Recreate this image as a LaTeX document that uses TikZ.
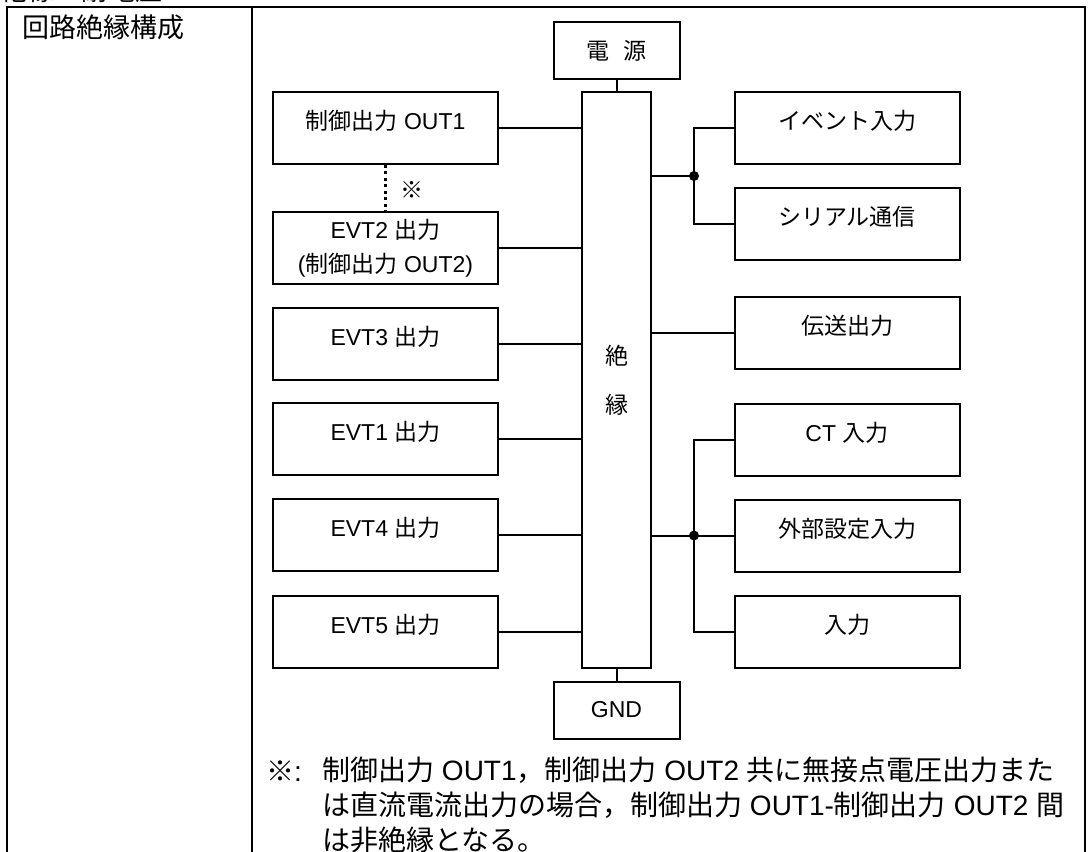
\documentclass[tikz,border=0pt]{standalone}
\usepackage{fontspec}
\setmainfont{Liberation Sans}
\newfontfamily\jp{Noto Sans CJK JP}

\begin{document}
\begin{tikzpicture}[x=1pt,y=-1pt,line join=miter,
  frame/.style={line width=2.7pt},
  wire/.style={line width=2pt},
  dotline/.style={line width=3pt,dash pattern=on 3pt off 3.5pt},
  box/.style={draw,line width=2pt,minimum width=225pt,minimum height=72pt,
    inner sep=0pt,font=\fontsize{23}{34}\selectfont},
  lift/.style={text height=20pt,text depth=17pt},
  endbox/.style={draw,line width=2pt,minimum width=126pt,minimum height=57pt,
    inner sep=0pt,font=\fontsize{23}{28}\selectfont},
  isobar/.style={draw,line width=2pt,minimum width=69pt,minimum height=576pt,
    inner sep=0pt,align=center,font=\fontsize{23}{49}\selectfont},
  big/.style={inner sep=0pt,font=\fontsize{27}{32}\selectfont},
  note/.style={inner sep=0pt,font=\fontsize{28}{35}\selectfont}]

\useasboundingbox (0,0) rectangle (1088,852);

% Table cell frame, cut at the page edges.
\node[big,anchor=base west] (section) at (0,0) {{\jp 絶縁・耐電圧}};
\draw[frame] (7,860) -- (7,7) -- (1085,7) -- (1085,860);
\draw[frame] (252,7) -- (252,860);
\node[big,anchor=west] (title) at (22,27) {{\jp 回路絶縁構成}};

% Isolation bar with supply and ground.
\node[isobar] (iso) at (616.5,380) {{\jp 絶}\\{\jp 縁}};
\node[endbox] (power) at (616.5,50.5) {{\jp 電}\hspace{14pt}{\jp 源}};
\node[endbox] (gnd) at (616.5,710) {GND};
\draw[wire] (power.south) -- (iso.north);
\draw[wire] (iso.south) -- (gnd.north);

% Left column: outputs.
\node[box,lift] (out1) at (385.5,127.5) {{\jp 制御出力} OUT1};
\node[box,align=center] (evt2) at (385.5,248)
  {EVT2 {\jp 出力}\\({\jp 制御出力} OUT2)};
\node[box,lift] (evt3) at (385.5,343.5) {EVT3 {\jp 出力}};
\node[box,lift] (evt1) at (385.5,439) {EVT1 {\jp 出力}};
\node[box,lift] (evt4) at (385.5,535) {EVT4 {\jp 出力}};
\node[box,lift] (evt5) at (385.5,631.5) {EVT5 {\jp 出力}};
\foreach \nm in {out1,evt2,evt3,evt1,evt4,evt5}
  \draw[wire] (\nm.east) -- (\nm.east -| iso.west);
\draw[dotline] (out1.south) -- (evt2.north);
\node[inner sep=0pt,font=\fontsize{23}{28}\selectfont] (mark) at (412,190) {{\jp ※}};

% Right column: inputs and communication.
\node[box,lift] (event) at (847,128) {{\jp イベント入力}};
\node[box,lift] (serial) at (847,223.5) {{\jp シリアル通信}};
\node[box,lift] (trans) at (847,333) {{\jp 伝送出力}};
\node[box,lift] (ct) at (847,439.5) {CT {\jp 入力}};
\node[box,lift] (ext) at (847,535.5) {{\jp 外部設定入力}};
\node[box,lift] (inp) at (847,632) {{\jp 入力}};
\coordinate (jtop) at (694,176);
\coordinate (jlow) at (694,535.5);
\draw[wire] (jtop -| iso.east) -- (jtop);
\draw[wire] (event.west) -| (jtop) |- (serial.west);
\draw[wire] (trans.west -| iso.east) -- (trans.west);
\draw[wire] (ext.west -| iso.east) -- (ext.west);
\draw[wire] (ct.west) -| (jlow) |- (inp.west);
\fill (jtop) circle[radius=5];
\fill (jlow) circle[radius=5];

% Footnote.
\node[note,anchor=west] (noteref) at (266,771) {{\jp ※}:};
\node[note,anchor=north west,align=left] (notebody) at (322,757)
  {{\jp 制御出力} OUT1{\jp ，制御出力} OUT2 {\jp 共に無接点電圧出力また}\\
   {\jp は直流電流出力の場合，制御出力} OUT1-{\jp 制御出力} OUT2 {\jp 間}\\
   {\jp は非絶縁となる。}};
\end{tikzpicture}
\end{document}
